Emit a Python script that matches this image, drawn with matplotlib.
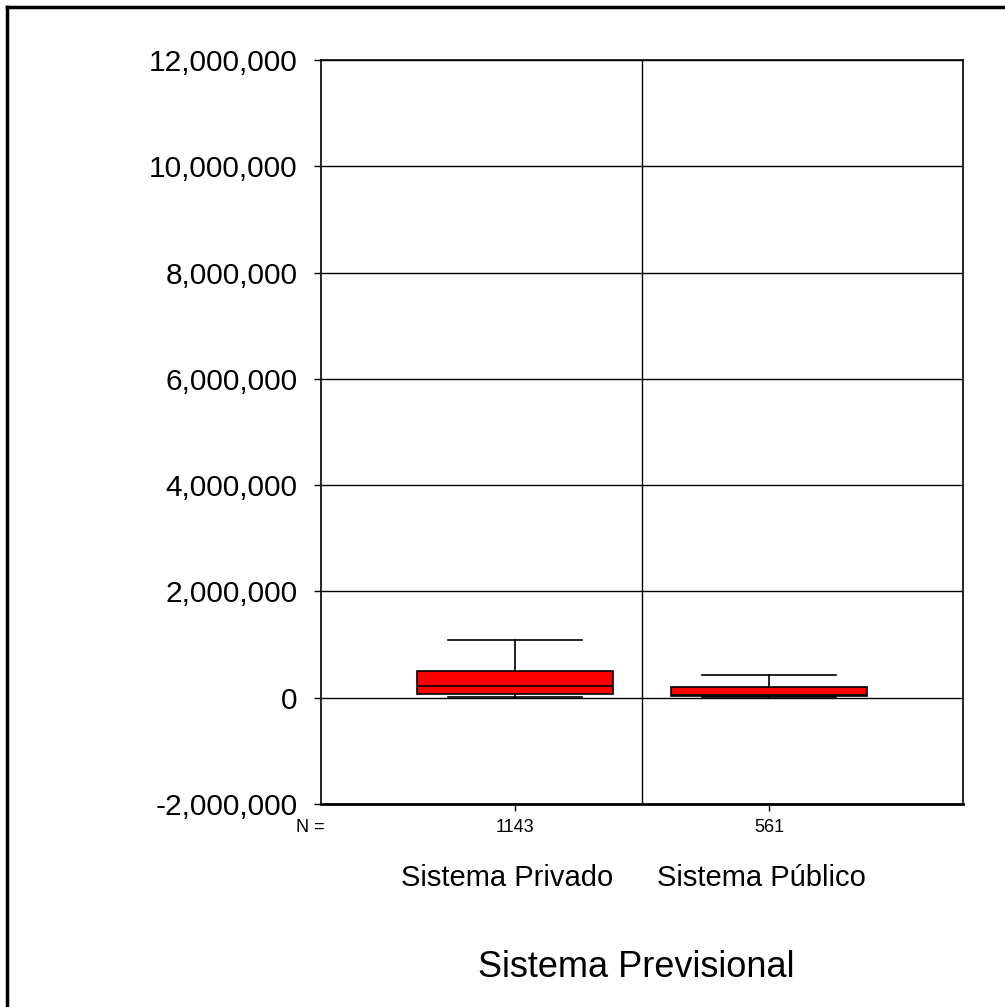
import matplotlib
matplotlib.use("Agg")
import matplotlib.pyplot as plt
from matplotlib.lines import Line2D
from matplotlib.ticker import FuncFormatter

# categories and counts
categories = ["Sistema Privado", "Sistema Público"]
counts = [1143, 561]

# box statistics (pesos)
whisker_low = [10000, 5000]
q1 = [75000, 35000]
median = [220000, 60000]
q3 = [495000, 195000]
whisker_high = [1080000, 435000]

y_ticks = [-2000000, 0, 2000000, 4000000, 6000000, 8000000, 10000000, 12000000]

plt.rcParams["font.family"] = ["Liberation Sans", "DejaVu Sans"]

fig = plt.figure(figsize=(10.05, 10.07), dpi=100)
W, H = 1005, 1007
ax = fig.add_axes([321 / W, 1 - 804 / H, (963 - 321) / W, (804 - 60) / H])

positions = [1, 2]
stats = []
for i in range(len(categories)):
    stats.append({
        "label": categories[i],
        "whislo": whisker_low[i],
        "q1": q1[i],
        "med": median[i],
        "q3": q3[i],
        "whishi": whisker_high[i],
        "fliers": [],
    })

ax.bxp(stats, positions=positions, widths=0.77, capwidths=0.53,
       patch_artist=True, showfliers=False,
       boxprops=dict(facecolor="#ff0000", edgecolor="black", linewidth=1.2),
       medianprops=dict(color="black", linewidth=1.2),
       whiskerprops=dict(color="black", linewidth=1.2),
       capprops=dict(color="black", linewidth=1.2),
       zorder=3)

ax.set_xlim(0.237, 2.763)
ax.set_ylim(-2000000, 12000000)
ax.set_yticks(y_ticks)
ax.yaxis.set_major_formatter(FuncFormatter(lambda v, p: f"{int(v):,}"))
ax.tick_params(axis="y", labelsize=21.5, length=5, width=1, pad=12, direction="out")
ax.set_xticks(positions)
ax.set_xticklabels([])
ax.tick_params(axis="x", length=5, width=1, direction="out")

# grid: horizontal lines at every tick, one vertical divider
for v in y_ticks:
    ax.axhline(v, color="black", linewidth=1, zorder=1)
ax.axvline(1.5, color="black", linewidth=1, zorder=1)

for s in ax.spines.values():
    s.set_linewidth(1.2)
ax.spines["bottom"].set_linewidth(2)

# counts and category labels under the axis
xt = ax.get_xaxis_transform()
ax.text(0.194, -0.032, "N =", transform=xt, ha="center", va="center", fontsize=13)
for p, n, c in zip(positions, counts, categories):
    ax.text(p, -0.032, str(n), transform=xt, ha="center", va="center", fontsize=13)
    ax.text(p - 0.03, -0.099, c, transform=xt, ha="center", va="center", fontsize=21)
ax.text(0.491, -0.22, "Sistema Previsional", transform=ax.transAxes,
        ha="center", va="center", fontsize=26)

# outer frame (left and top edges only visible)
fig.add_artist(Line2D([7 / W, 7 / W], [0, 1 - 7 / H], transform=fig.transFigure,
                      color="black", linewidth=2.5))
fig.add_artist(Line2D([7 / W, 1], [1 - 7 / H, 1 - 7 / H], transform=fig.transFigure,
                      color="black", linewidth=2.5))

fig.savefig("out.png", dpi=100)
